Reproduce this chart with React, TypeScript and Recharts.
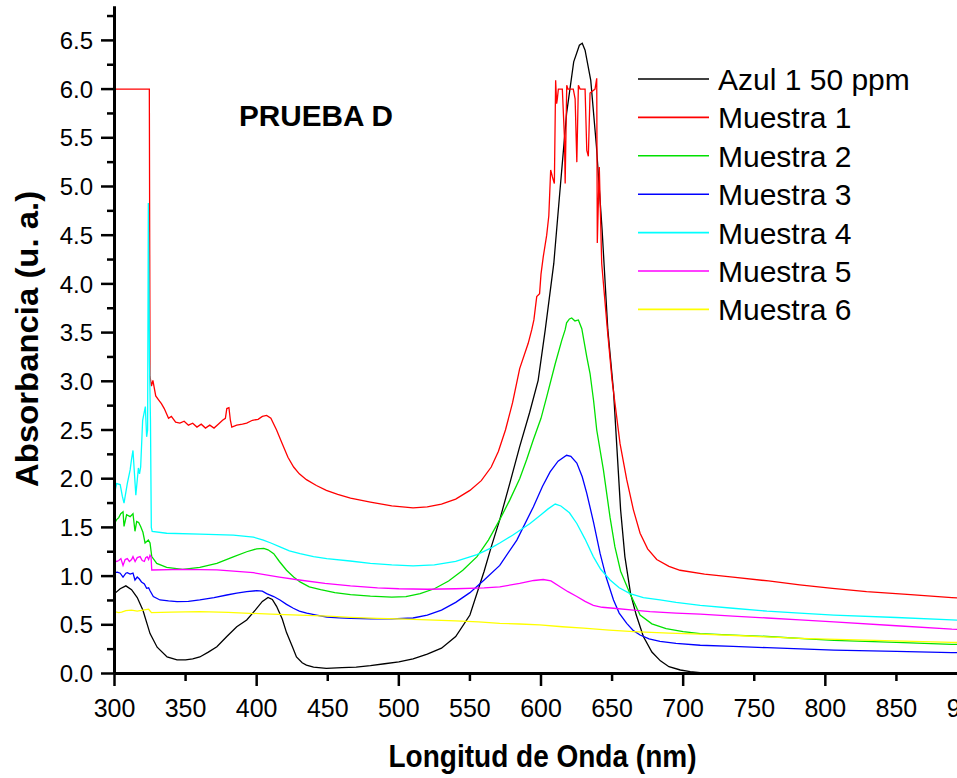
import React from 'react';
import { LineChart, Line, XAxis, YAxis } from 'recharts';

// ---- Data (wavelength nm, absorbance) ----
const azulX = [300, 304, 308, 312, 316, 320, 325, 330, 337, 344, 350, 355, 360, 366, 372, 379, 386, 393, 399, 404, 408, 411, 414, 418, 421, 425, 428, 432, 435, 440, 449, 460, 470, 480, 490, 500, 510, 520, 530, 540, 550, 560, 565, 571, 578, 585, 592, 598, 603, 609, 613, 618, 623, 627, 629, 631, 635, 639, 643, 647, 651, 656, 659, 663, 667, 672, 678, 684, 690, 698, 705, 712, 725, 750, 900];
const azulY = [0.82, 0.87, 0.9, 0.86, 0.78, 0.65, 0.41, 0.27, 0.17, 0.14, 0.14, 0.15, 0.17, 0.22, 0.275, 0.38, 0.48, 0.55, 0.65, 0.74, 0.78, 0.76, 0.69, 0.56, 0.42, 0.28, 0.17, 0.11, 0.087, 0.066, 0.053, 0.06, 0.066, 0.08, 0.1, 0.12, 0.15, 0.2, 0.26, 0.38, 0.6, 1.05, 1.3, 1.58, 1.95, 2.33, 2.68, 3.01, 3.53, 4.21, 4.9, 5.75, 6.28, 6.45, 6.47, 6.4, 6.09, 5.41, 4.55, 3.53, 2.9, 1.68, 1.2, 0.82, 0.6, 0.38, 0.22, 0.13, 0.07, 0.036, 0.02, 0.01, 0.004, 0.0, 0.0];

const m1X = [300, 324.5, 325, 326, 327, 329, 331, 333, 335, 338, 340, 343, 346, 349, 352, 355, 358, 361, 364, 367, 370, 373, 376, 378, 379, 380.5, 381.5, 382.5, 386, 390, 393, 397, 401, 404, 407, 410, 414, 418, 422, 426, 430, 435, 442, 449, 457, 466, 480, 495, 510, 520, 530, 540, 550, 558, 565, 570, 575, 580, 585, 591, 593.5, 595, 597, 599, 600, 601.6, 604, 605.5, 606.8, 608, 609.4, 610.3, 611, 611.5, 612.2, 615, 616.5, 617, 618.1, 619, 622.7, 624, 625.2, 626.3, 627.5, 631, 632.2, 633.3, 634.5, 638, 639.2, 639.6, 641, 642.7, 646.7, 650, 655.6, 660.3, 665, 669.7, 675, 681.4, 690, 697.8, 715, 735, 760, 782, 805, 829, 860, 889, 900];
const m1Y = [6.0, 6.0, 3.05, 2.95, 3.01, 2.85, 2.81, 2.77, 2.72, 2.62, 2.64, 2.58, 2.57, 2.59, 2.55, 2.57, 2.53, 2.56, 2.52, 2.55, 2.52, 2.56, 2.6, 2.62, 2.72, 2.73, 2.6, 2.53, 2.55, 2.56, 2.57, 2.6, 2.61, 2.64, 2.65, 2.62, 2.5, 2.36, 2.22, 2.12, 2.05, 1.99, 1.93, 1.88, 1.84, 1.8, 1.76, 1.72, 1.7, 1.71, 1.74, 1.79, 1.88, 1.98, 2.12, 2.28, 2.5, 2.78, 3.13, 3.39, 3.53, 3.63, 3.87, 3.9, 4.1, 4.28, 4.5, 4.7, 5.17, 5.1, 5.03, 6.09, 5.85, 5.9, 6.0, 6.0, 5.5, 5.03, 6.04, 6.0, 6.0, 5.9, 5.25, 6.04, 6.0, 6.0, 5.37, 5.31, 5.96, 6.0, 6.11, 4.42, 5.2, 4.21, 3.53, 3.01, 2.36, 1.99, 1.68, 1.44, 1.28, 1.17, 1.1, 1.06, 1.02, 0.99, 0.95, 0.91, 0.875, 0.84, 0.81, 0.78, 0.77];

const m2X = [300, 301.5, 303, 304.4, 306, 306.7, 308.5, 311, 313, 314.4, 315.6, 317, 318.4, 320, 321.5, 323.8, 325, 326.2, 329.7, 336.7, 348, 360, 372, 384, 393, 400, 405, 408, 412, 416, 421, 426, 430.5, 437, 445, 455, 466, 480, 495, 505, 515, 525, 535, 545, 555, 563, 571, 578, 585, 590, 594.6, 600, 604, 610, 614.6, 617, 618, 620, 621.6, 623.9, 626.3, 628.7, 632.2, 634.5, 637, 639.2, 643.9, 648.6, 652, 656, 662.6, 669.7, 678, 688, 700, 712, 735, 759, 806, 850, 889, 900];
const m2Y = [1.54, 1.58, 1.6, 1.64, 1.66, 1.51, 1.63, 1.61, 1.64, 1.46, 1.56, 1.55, 1.51, 1.45, 1.34, 1.37, 1.34, 1.2, 1.13, 1.09, 1.07, 1.09, 1.13, 1.2, 1.25, 1.28, 1.285, 1.27, 1.23, 1.15, 1.06, 0.99, 0.94, 0.89, 0.86, 0.83, 0.81, 0.795, 0.785, 0.79, 0.82, 0.87, 0.95, 1.06, 1.2, 1.37, 1.58, 1.78, 2.0, 2.2, 2.4, 2.62, 2.84, 3.18, 3.42, 3.53, 3.6, 3.64, 3.65, 3.62, 3.63, 3.54, 3.25, 3.08, 2.8, 2.5, 2.09, 1.6, 1.3, 1.05, 0.82, 0.6, 0.51, 0.46, 0.43, 0.41, 0.395, 0.38, 0.34, 0.32, 0.3, 0.295];

const m3X = [300, 302, 304, 306, 308, 309, 311, 313, 314.4, 316, 317.5, 319, 321, 322.6, 324, 325, 327.3, 332, 338, 344, 352, 360, 370, 379, 386, 393, 400, 404, 407, 412, 416.4, 421, 425.8, 430, 435.2, 442, 449.3, 458, 466, 480, 495, 510, 520, 530, 540, 550, 560, 571, 583, 594.6, 601, 606.4, 612, 618, 621, 625.2, 629, 632.2, 637, 641.6, 646, 651, 655, 660.3, 665, 669.7, 676, 683.7, 695, 712, 735, 759, 806, 850, 889, 900];
const m3Y = [1.035, 1.04, 1.03, 0.99, 1.03, 1.035, 1.02, 1.03, 0.96, 0.99, 0.97, 0.94, 0.92, 0.875, 0.88, 0.85, 0.79, 0.755, 0.745, 0.737, 0.74, 0.755, 0.78, 0.806, 0.825, 0.84, 0.85, 0.845, 0.82, 0.79, 0.755, 0.71, 0.67, 0.64, 0.62, 0.6, 0.58, 0.572, 0.567, 0.56, 0.56, 0.57, 0.6, 0.65, 0.73, 0.83, 0.96, 1.11, 1.37, 1.71, 1.92, 2.07, 2.18, 2.24, 2.23, 2.16, 2.02, 1.85, 1.55, 1.23, 0.98, 0.755, 0.62, 0.515, 0.44, 0.395, 0.355, 0.33, 0.31, 0.29, 0.278, 0.265, 0.24, 0.228, 0.215, 0.212];

const m4X = [300, 301.5, 304, 305.5, 306.7, 309, 311, 312, 313, 315, 316.8, 317.6, 318.4, 319.8, 321.7, 322.6, 323.3, 323.8, 324.6, 325.3, 325.9, 326.5, 336.7, 360, 383.6, 397.7, 404.7, 410, 416.4, 423, 430.5, 440, 449.3, 465.7, 480, 495, 510, 525, 540, 555, 565, 571, 580, 592.3, 600, 605, 610, 614, 620, 625.2, 631, 636.8, 642, 648.6, 655, 662.6, 672, 683.7, 695, 712, 735, 759, 782, 806, 850, 889, 900];
const m4Y = [1.85, 1.95, 1.94, 1.82, 1.75, 1.95, 2.09, 2.2, 2.29, 1.83, 2.11, 2.05, 2.12, 2.6, 2.74, 2.43, 2.5, 4.83, 3.2, 2.6, 1.5, 1.46, 1.44, 1.43, 1.42, 1.4, 1.37, 1.34, 1.3, 1.26, 1.23, 1.2, 1.18, 1.155, 1.13, 1.115, 1.105, 1.115, 1.15, 1.22, 1.29, 1.34, 1.42, 1.54, 1.63, 1.69, 1.74, 1.72, 1.65, 1.54, 1.38, 1.2, 1.07, 0.96, 0.88, 0.82, 0.78, 0.755, 0.73, 0.7, 0.67, 0.64, 0.62, 0.6, 0.575, 0.55, 0.545];

const m5X = [300, 301.5, 303, 304.5, 306, 307.5, 309, 310.5, 312, 313, 314.5, 316, 318, 319.5, 321, 322, 323, 324, 325, 325.7, 326.2, 348, 372, 397.7, 416, 430, 448, 466, 485, 500, 520, 540, 560, 571, 585, 595, 601.6, 607, 613.4, 619, 625.2, 631, 636.8, 643, 651, 665, 676.7, 695, 712, 735, 759, 782, 806, 850, 889, 900];
const m5Y = [1.165, 1.15, 1.16, 1.18, 1.11, 1.17, 1.18, 1.15, 1.17, 1.2, 1.15, 1.19, 1.2, 1.16, 1.15, 1.19, 1.2, 1.17, 1.215, 1.2, 1.063, 1.07, 1.063, 1.035, 0.99, 0.96, 0.925, 0.9, 0.88, 0.87, 0.865, 0.87, 0.88, 0.89, 0.925, 0.955, 0.965, 0.95, 0.89, 0.84, 0.79, 0.74, 0.7, 0.68, 0.67, 0.65, 0.635, 0.62, 0.61, 0.59, 0.57, 0.55, 0.53, 0.49, 0.455, 0.45];

const m6X = [300, 303, 305, 308, 312, 316, 320, 324, 326, 340, 360, 380, 395, 410, 430, 450, 466, 485, 500, 520, 540, 556, 571, 585, 599, 615, 630, 648, 665, 690, 712, 745, 782, 835, 889, 900];
const m6Y = [0.635, 0.625, 0.63, 0.645, 0.65, 0.64, 0.65, 0.66, 0.625, 0.63, 0.635, 0.628, 0.618, 0.61, 0.6, 0.59, 0.577, 0.565, 0.56, 0.55, 0.54, 0.53, 0.515, 0.508, 0.5, 0.48, 0.465, 0.445, 0.43, 0.415, 0.405, 0.385, 0.36, 0.34, 0.32, 0.315];

const seriesNames = ['Azul 1 50 ppm', 'Muestra 1', 'Muestra 2', 'Muestra 3', 'Muestra 4', 'Muestra 5', 'Muestra 6'];
const seriesColors = ['#000000', '#ff0000', '#00e000', '#0000ff', '#00ffff', '#ff00ff', '#ffff00'];
const seriesXs = [azulX, m1X, m2X, m3X, m4X, m5X, m6X];
const seriesYs = [azulY, m1Y, m2Y, m3Y, m4Y, m5Y, m6Y];

const xTicks = [300, 350, 400, 450, 500, 550, 600, 650, 700, 750, 800, 850, 900];
const yTicks = [0, 0.25, 0.5, 0.75, 1, 1.25, 1.5, 1.75, 2, 2.25, 2.5, 2.75, 3, 3.25, 3.5, 3.75, 4, 4.25, 4.5, 4.75, 5, 5.25, 5.5, 5.75, 6, 6.25, 6.5, 6.75];

const title = 'PRUEBA D';
const xTitle = 'Longitud de Onda (nm)';
const yTitle = 'Absorbancia (u. a.)';

const FONT = '"Liberation Sans", Arial, Helvetica, sans-serif';

const zip = (xs: number[], ys: number[]) => xs.map((x, i) => ({ x, y: ys[i] }));

const XTick = (props: any) => {
  const { x, y, payload } = props;
  const v = payload.value as number;
  const major = v % 100 === 0;
  return (
    <g>
      <line x1={x} x2={x} y1={y} y2={y + (major ? 12.5 : 7.5)} stroke="#000" strokeWidth={2.5} />
      <text x={x} y={y + 43.5} textAnchor="middle" fontSize={25} fill="#000" fontFamily={FONT}>
        {v}
      </text>
    </g>
  );
};

const YTick = (props: any) => {
  const { x, y, payload } = props;
  const v = payload.value as number;
  const major = Math.abs(v * 2 - Math.round(v * 2)) < 1e-6;
  return (
    <g>
      <line x1={x} x2={x - (major ? 13.5 : 7.5)} y1={y} y2={y} stroke="#000" strokeWidth={2.5} />
      {major && (
        <text x={x - 21.5} y={y} dy="0.36em" textAnchor="end" fontSize={24} fill="#000" fontFamily={FONT}>
          {v.toFixed(1)}
        </text>
      )}
    </g>
  );
};

const XTitle = (props: any) => {
  const vb = props.viewBox;
  return (
    <text
      x={vb.x + vb.width / 2 + 1.5}
      y={vb.y + 93.5}
      textAnchor="middle"
      fontSize={31}
      fontWeight="bold"
      fill="#000"
      fontFamily={FONT}
      textLength={308}
      lengthAdjust="spacingAndGlyphs"
    >
      {xTitle}
    </text>
  );
};

const YTitle = (props: any) => {
  const vb = props.viewBox;
  const cx = 38;
  const cy = vb.y + vb.height / 2 - 1;
  return (
    <text
      x={cx}
      y={cy}
      transform={`rotate(-90, ${cx}, ${cy})`}
      textAnchor="middle"
      fontSize={32}
      fontWeight="bold"
      fill="#000"
      fontFamily={FONT}
      textLength={296}
      lengthAdjust="spacingAndGlyphs"
    >
      {yTitle}
    </text>
  );
};

export default function App() {
  return (
    <div
      style={{
        position: 'absolute',
        left: 0,
        top: 0,
        width: 957,
        height: 778,
        overflow: 'hidden',
        background: '#fff',
        fontFamily: FONT,
      }}
    >
      <LineChart width={1000} height={778} margin={{ top: 6.3, right: 32.5, bottom: 0, left: 0 }}>
        <XAxis
          dataKey="x"
          type="number"
          domain={[300, 900]}
          ticks={xTicks}
          allowDataOverflow
          height={104.5}
          tickSize={0}
          tickMargin={0}
          tickLine={false}
          tick={<XTick />}
          axisLine={{ stroke: '#000', strokeWidth: 3 }}
          label={<XTitle />}
          interval={0}
        />
        <YAxis
          type="number"
          domain={[0, 6.85]}
          ticks={yTicks}
          allowDataOverflow
          width={114.5}
          tickSize={0}
          tickMargin={0}
          tickLine={false}
          tick={<YTick />}
          axisLine={{ stroke: '#000', strokeWidth: 3 }}
          label={<YTitle />}
          interval={0}
        />
        {seriesNames.map((name, i) => (
          <Line
            key={name}
            name={name}
            data={zip(seriesXs[i], seriesYs[i])}
            dataKey="y"
            type="linear"
            dot={false}
            activeDot={false}
            stroke={seriesColors[i]}
            strokeWidth={1.3}
            isAnimationActive={false}
          />
        ))}
        <text x={239} y={126} fontSize={30} fontWeight="bold" fill="#000" fontFamily={FONT} textLength={154} lengthAdjust="spacingAndGlyphs">
          {title}
        </text>
        <g className="legend">
          {seriesNames.map((name, i) => {
            const cy = 79 + i * 38.4;
            return (
              <g key={name}>
                <line x1={638} x2={709} y1={cy} y2={cy} stroke={seriesColors[i]} strokeWidth={1.6} />
                <text x={718} y={cy + 11} fontSize={30} fill="#000" fontFamily={FONT}>
                  {name}
                </text>
              </g>
            );
          })}
        </g>
      </LineChart>
    </div>
  );
}
